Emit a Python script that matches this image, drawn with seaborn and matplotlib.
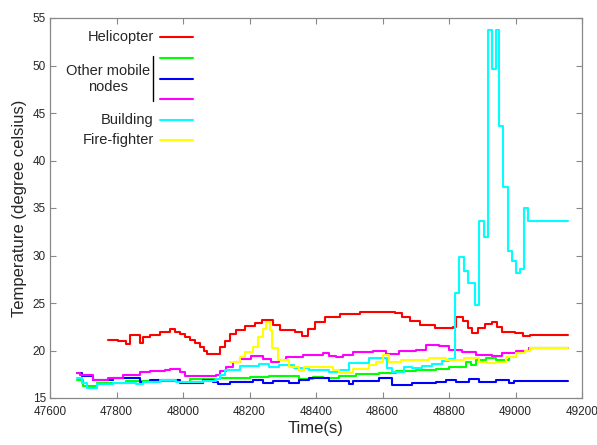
import matplotlib
matplotlib.use("Agg")
import matplotlib.pyplot as plt
import seaborn as sns
import pandas as pd

# Helicopter
heli_t = [47774, 47805, 47829, 47841, 47871, 47880, 47901, 47931, 47961, 47976, 47991,
          48006, 48021, 48036, 48051, 48062, 48072, 48096, 48111, 48126, 48141, 48159,
          48186, 48216, 48238, 48271, 48292, 48337, 48358, 48376, 48397, 48427, 48472,
          48532, 48638, 48659, 48683, 48713, 48758, 48812, 48821, 48842, 48857, 48869,
          48887, 48908, 48929, 48944, 48959, 48998, 49022, 49044, 49158]
heli_v = [21.1, 21.0, 20.7, 21.6, 20.8, 21.4, 21.6, 21.9, 22.3, 22.0, 21.7,
          21.4, 21.1, 20.8, 20.4, 20.0, 19.6, 19.6, 20.4, 21.0, 21.7, 22.2,
          22.6, 22.9, 23.2, 22.7, 22.2, 21.9, 21.5, 22.3, 23.0, 23.5, 23.8,
          24.1, 23.9, 23.5, 23.1, 22.7, 22.4, 22.5, 23.5, 23.1, 22.4, 21.8,
          22.4, 22.8, 23.0, 22.5, 21.9, 21.8, 21.5, 21.6, 21.6]

# Other mobile nodes
green_t = [47680, 47700, 47740, 47830, 47990, 48020, 48110, 48200, 48260, 48350, 48390,
           48420, 48470, 48520, 48590, 48640, 48700, 48760, 48800, 48830, 48850, 48865,
           48880, 48910, 48940, 48980, 49000, 49020, 49040, 49158]
green_v = [16.9, 16.3, 16.6, 16.8, 16.7, 17.0, 17.1, 17.2, 17.3, 17.0, 17.2,
           17.1, 17.3, 17.5, 17.6, 17.8, 17.9, 18.1, 18.3, 18.3, 18.8, 18.5,
           19.0, 19.2, 19.0, 19.3, 19.7, 20.0, 20.3, 20.3]

blue_t = [47680, 47695, 47730, 47790, 47870, 47900, 47990, 48060, 48090, 48105, 48140,
          48210, 48240, 48270, 48320, 48350, 48380, 48440, 48500, 48510, 48590, 48630,
          48690, 48760, 48790, 48820, 48860, 48890, 48940, 48980, 48995, 49158]
blue_v = [17.6, 17.3, 16.9, 17.1, 16.7, 16.9, 16.6, 16.9, 16.7, 16.5, 16.7,
          16.9, 16.6, 16.8, 16.6, 16.9, 17.1, 16.8, 16.5, 16.8, 17.1, 16.4,
          16.6, 16.7, 16.9, 16.7, 17.0, 16.7, 16.9, 16.6, 16.8, 16.8]

magenta_t = [47680, 47690, 47730, 47775, 47820, 47870, 47900, 47945, 47960, 47990, 48005,
             48100, 48110, 48130, 48150, 48170, 48205, 48240, 48265, 48290, 48310, 48360,
             48420, 48440, 48460, 48480, 48510, 48570, 48610, 48650, 48700, 48730, 48770,
             48800, 48840, 48880, 48930, 48960, 49000, 49040, 49158]
magenta_v = [17.6, 17.4, 16.9, 17.1, 17.4, 17.7, 17.8, 18.0, 18.1, 17.7, 17.3,
             17.4, 17.8, 18.3, 18.8, 19.1, 19.4, 19.1, 18.8, 19.0, 19.3, 19.5,
             19.7, 19.4, 19.3, 19.5, 19.8, 19.9, 19.6, 20.0, 20.1, 20.6, 20.5,
             20.1, 19.8, 19.5, 19.4, 19.7, 20.0, 20.3, 20.3]

# Building
build_t = [47680, 47695, 47710, 47740, 47790, 47860, 47880, 47930, 47980, 48060, 48100,
           48110, 48125, 48170, 48230, 48260, 48290, 48335, 48380, 48440, 48470, 48500,
           48560, 48615, 48630, 48665, 48690, 48720, 48750, 48780, 48800, 48818, 48821,
           48830, 48845, 48857, 48878, 48890, 48905, 48917, 48929, 48942, 48951, 48963,
           48978, 48990, 49002, 49014, 49026, 49038, 49158]
build_v = [17.1, 16.6, 16.1, 16.5, 16.6, 16.5, 16.7, 16.9, 16.7, 16.8, 17.0,
           17.4, 17.9, 18.4, 18.6, 18.3, 18.5, 18.2, 18.0, 17.7, 17.9, 18.7,
           19.2, 18.2, 17.7, 18.3, 18.2, 18.4, 18.6, 18.9, 19.1, 26.1, 26.1,
           29.8, 28.4, 27.1, 24.8, 33.6, 32.0, 53.7, 49.6, 53.7, 43.6, 37.2,
           30.5, 29.4, 28.2, 28.6, 35.0, 33.6, 33.6]

# Fire-fighter
fire_t = [48141, 48170, 48185, 48210, 48225, 48240, 48250, 48262, 48268, 48285, 48320,
          48350, 48365, 48450, 48470, 48510, 48560, 48580, 48600, 48620, 48655, 48740,
          48790, 48845, 48890, 48910, 48940, 48970, 49000, 49030, 49045, 49158]
fire_v = [18.8, 19.3, 19.8, 20.4, 21.4, 22.3, 23.0, 22.2, 20.3, 19.0, 18.3,
          17.8, 18.3, 17.9, 17.6, 18.1, 18.5, 18.8, 19.5, 18.8, 19.0, 19.2,
          19.0, 19.2, 18.8, 18.7, 18.8, 19.3, 19.7, 20.0, 20.3, 20.3]

series = [
    (heli_t, heli_v, "#ff0000"),
    (green_t, green_v, "#00ff00"),
    (blue_t, blue_v, "#0000ff"),
    (magenta_t, magenta_v, "#ff00ff"),
    (build_t, build_v, "#00ffff"),
    (fire_t, fire_v, "#ffff00"),
]

sns.set_style("ticks")
plt.rcParams["font.family"] = ["Liberation Sans", "DejaVu Sans"]

fig = plt.figure(figsize=(5.97, 4.45), dpi=100)
ax = fig.add_axes([50 / 597, 47 / 445, 532 / 597, 380 / 445])

for t, v, c in series:
    df = pd.DataFrame({"t": t, "v": v})
    sns.lineplot(data=df, x="t", y="v", ax=ax, color=c, linewidth=1.5,
                 drawstyle="steps-post", estimator=None, sort=False)

ax.set_xlim(47600, 49200)
ax.set_ylim(15, 55)
ax.set_xticks(range(47600, 49201, 200))
ax.set_yticks(range(15, 56, 5))
ax.tick_params(direction="in", top=True, right=True, length=4, labelsize=8.5,
               color="#888888", width=0.8)
ax.tick_params(axis="x", pad=6)
ax.tick_params(axis="y", pad=3)
for s in ax.spines.values():
    s.set_color("#888888")
    s.set_linewidth(0.9)
ax.set_xlabel("Time(s)", fontsize=12, labelpad=2)
ax.set_ylabel("Temperature (degree celsius)", fontsize=12, labelpad=4)

# gnuplot-style key
key_y = [37, 58, 79, 99, 120, 140]
key_lbl = ["Helicopter", None, None, None, "Building", "Fire-fighter"]
for (t, v, c), py, lbl in zip(series, key_y, key_lbl):
    yy = 1 - (py - 18) / 380
    ax.plot([(160 - 50) / 532, (193 - 50) / 532], [yy, yy], color=c, lw=1.5,
            transform=ax.transAxes, clip_on=False)
    if lbl:
        ax.text((154 - 50) / 532, yy, lbl, transform=ax.transAxes, ha="right",
                va="center", fontsize=10.5)
ax.plot([(153 - 50) / 532] * 2, [1 - (56 - 18) / 380, 1 - (101 - 18) / 380],
        color="black", lw=1, transform=ax.transAxes)
ax.text((108 - 50) / 532, 1 - (79 - 18) / 380, "Other mobile\nnodes",
        transform=ax.transAxes, ha="center", va="center", fontsize=10.5,
        multialignment="center", linespacing=1.15)

fig.savefig("out.png", dpi=100)
